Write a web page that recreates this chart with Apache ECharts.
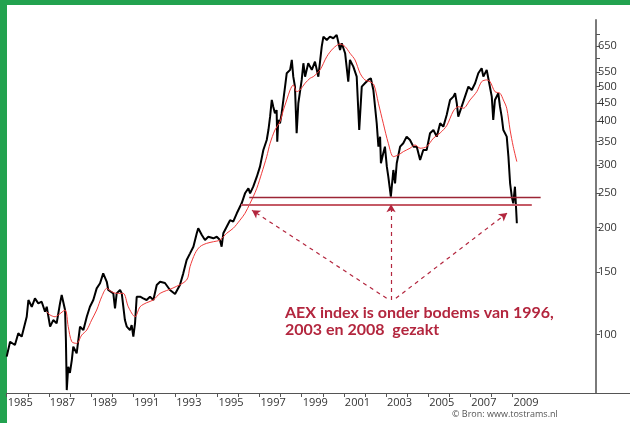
<!DOCTYPE html>
<html><head><meta charset="utf-8">
<script src="https://cdn.jsdelivr.net/npm/echarts@6/dist/echarts.min.js"></script>
<style>html,body{margin:0;padding:0;background:#fff}#c{width:630px;height:423px}</style>
</head><body><div id="c"></div>
<script>
// AEX daily close (approximate)
const aexYears = [1985.00,1985.16,1985.39,1985.55,1985.71,1985.95,1986.03,1986.19,1986.34,1986.50,1986.66,1986.82,1986.90,1987.06,1987.21,1987.37,1987.53,1987.61,1987.77,1987.81,1987.85,1987.92,1988.00,1988.09,1988.16,1988.32,1988.48,1988.64,1988.80,1988.95,1989.11,1989.27,1989.43,1989.58,1989.75,1989.82,1989.90,1990.06,1990.14,1990.22,1990.38,1990.46,1990.61,1990.70,1990.85,1990.93,1991.01,1991.09,1991.17,1991.33,1991.48,1991.64,1991.80,1991.96,1992.12,1992.28,1992.51,1992.75,1992.99,1993.22,1993.38,1993.54,1993.70,1993.86,1994.02,1994.09,1994.26,1994.41,1994.57,1994.81,1994.97,1995.12,1995.20,1995.28,1995.44,1995.60,1995.75,1995.92,1995.99,1996.15,1996.31,1996.47,1996.55,1996.70,1996.87,1997.02,1997.18,1997.34,1997.42,1997.50,1997.58,1997.65,1997.73,1997.81,1997.84,1997.89,1997.97,1998.05,1998.13,1998.21,1998.29,1998.45,1998.53,1998.60,1998.68,1998.76,1998.84,1999.00,1999.08,1999.16,1999.31,1999.48,1999.63,1999.79,1999.95,2000.03,2000.19,2000.34,2000.50,2000.66,2000.82,2000.90,2001.06,2001.21,2001.29,2001.45,2001.61,2001.73,2001.85,2002.00,2002.16,2002.28,2002.40,2002.56,2002.64,2002.72,2002.76,2002.87,2002.95,2003.04,2003.11,2003.23,2003.35,2003.43,2003.51,2003.67,2003.82,2003.98,2004.14,2004.30,2004.46,2004.62,2004.77,2004.93,2005.09,2005.25,2005.41,2005.57,2005.72,2005.88,2006.04,2006.20,2006.28,2006.36,2006.43,2006.59,2006.75,2006.91,2007.07,2007.23,2007.38,2007.54,2007.62,2007.78,2007.90,2008.02,2008.09,2008.17,2008.33,2008.41,2008.49,2008.57,2008.73,2008.81,2008.89,2008.97,2009.04,2009.12,2009.17,2009.21];
const aexValues = [86.6,95.4,93.4,100.8,98.6,112.2,125.1,119.7,126.4,122.4,123.7,115.9,119.7,105.2,109.8,107.5,122.4,129.2,117.2,96.5,69.7,81.1,77.9,84.7,92.4,88.5,105.2,102.9,112.2,119.7,125.1,134.9,139.4,148.7,140.8,133.5,134.9,130.6,118.5,130.6,133.5,130.6,109.8,105.2,102.9,106.3,98.6,107.5,127.8,127.8,126.4,125.1,127.8,125.1,137.9,140.8,139.7,133.5,130.0,137.9,148.7,162.2,169.3,176.8,192.9,199.2,190.7,184.6,188.6,186.7,188.6,184.6,176.8,192.9,201.3,210,207.9,219.6,217.2,234.3,250,258.3,250,261,278.5,297.2,331.2,353.4,377,411.2,458.3,438.8,420.4,429,349.5,402.5,394,420.4,458.3,499.7,545,557,594.3,533,499.7,369.2,448.6,521.9,581.6,533,581.6,557,587.7,533,647.8,691.3,676.5,691.3,684,699,634,662,620.6,516,594.3,569,533,377,499.7,510.8,521.9,527.7,489,394,338.4,361.1,303.8,324.3,338.4,297.2,278.5,244.6,290.9,266.8,303.8,338.4,346,361.1,353.4,338.4,338.4,310.4,331.2,331.2,369.2,377,361.1,394,385.3,415.8,458.3,468.2,478.6,448.6,411.2,438.8,468.2,499.7,489,510.8,545,563,533,557,510.8,468.2,402.5,458.3,478.6,438.8,411.2,377,361.1,317.2,266.8,244.6,234.3,261,229.2,205.8];
// moving average (red)
const maYears = [1986.90,1987.06,1987.29,1987.45,1987.77,1987.92,1988.09,1988.32,1988.56,1988.80,1989.03,1989.27,1989.51,1989.75,1989.98,1990.22,1990.53,1990.77,1991.09,1991.33,1991.64,1991.96,1992.28,1992.89,1993.54,1993.70,1993.94,1994.17,1994.49,1994.81,1995.12,1995.44,1995.75,1996.07,1996.31,1996.55,1996.70,1996.87,1997.10,1997.34,1997.50,1997.73,1997.97,1998.13,1998.29,1998.45,1998.60,1998.76,1998.92,1999.16,1999.40,1999.55,1999.87,2000.19,2000.50,2000.82,2001.06,2001.29,2001.53,2001.77,2002.00,2002.24,2002.43,2002.64,2002.87,2003.11,2003.35,2003.59,2003.82,2004.14,2004.38,2004.62,2004.93,2005.25,2005.57,2005.88,2006.20,2006.43,2006.67,2006.99,2007.31,2007.54,2007.78,2007.94,2008.17,2008.41,2008.57,2008.73,2008.89,2009.04,2009.21];
const maValues = [115.9,113.5,112.2,113.5,117.2,105.2,95.4,94.4,99.6,102.9,109.8,117.2,127.8,134.9,132.0,130.6,130.6,119.7,112.2,119.7,122.9,125.1,130.6,135.2,142.4,155.3,169.3,176.8,180.7,182.6,184.6,192.9,199.2,210,219.6,234.3,244.6,258.3,284.7,317.2,346,377,398.1,429,458.3,489,505.2,483.7,489,510.8,527.7,533,557,607,641,659,647.8,620.6,594.3,545,521.9,516,505.2,448.6,394,346,317.2,320.7,327.6,335,342.2,335,338.4,357.4,369.9,387.6,426.7,438.8,434.2,458.3,483.7,516,521.9,516,483.7,478.6,458.3,434.2,377,338.4,307];
// axis ticks
const yTickValues = [100,150,200,250,300,350,400,450,500,550,600,650,700];
const yLabelValues = [100,150,200,250,300,350,400,450,500,550,650];
const xTickYears = [1985,1986,1987,1988,1989,1990,1991,1992,1993,1994,1995,1996,1997,1998,1999,2000,2001,2002,2003,2004,2005,2006,2007,2008,2009];
const xLabelYears = [1985,1987,1989,1991,1993,1995,1997,1999,2001,2003,2005,2007,2009];
// support levels (bodems) and annotation
const levelHigh = {from: 1996.51, to: 2010.34, value: 243.6};
const levelLow = {from: 1996.12, to: 2009.92, value: 231.8};
const arrowFrom = [[2003.03, 126.5], [2003.24, 125.1], [2003.47, 126.5]];
const arrowTo = [[1996.64, 224], [2003.24, 233], [2008.75, 220]];
const noteLines = ['AEX index is onder bodems van 1996,', '2003 en 2008  gezakt'];
const source = '© Bron: www.tostrams.nl';

const zip = (a, b) => a.map((x, i) => [x, b[i]]);
const chart = echarts.init(document.getElementById('c'), null, {renderer: 'canvas'});
const red = '#b3263e';
chart.setOption({
  animation: false,
  backgroundColor: '#fff',
  grid: {left: 6.7, right: 0, top: 20, bottom: 30, containLabel: false, outerBoundsMode: 'none'},
  xAxis: {
    type: 'value', min: 1985, max: 2014.58,
    axisLine: {show: true, lineStyle: {color: '#555', width: 1}},
    axisTick: {show: true, length: 4, customValues: xTickYears, lineStyle: {color: '#555'}},
    axisLabel: {customValues: xLabelYears, align: 'left', margin: 4, color: '#333', fontSize: 11, fontFamily: 'Open Sans', padding: [0,0,0,1], formatter: v => String(v)},
    splitLine: {show: false}
  },
  yAxis: {
    type: 'log', position: 'right', offset: -34, min: 68.4, max: 770, logBase: 10,
    axisLine: {show: true, lineStyle: {color: '#7a7a7a', width: 2}},
    axisTick: {show: true, length: 4, inside: false, customValues: yTickValues, lineStyle: {color: '#555'}},
    axisLabel: {customValues: yLabelValues, margin: 2, color: '#333', fontSize: 11, fontFamily: 'Open Sans', formatter: v => String(Math.round(v))},
    splitLine: {show: false}, minorTick: {show: false}
  },
  series: [
    {type: 'line', data: zip(aexYears, aexValues), showSymbol: false, lineStyle: {color: '#000', width: 2}, z: 3,
     markLine: {silent: true, symbol: ['none', 'none'], label: {show: false}, animation: false,
       data: [
         [{coord: [levelHigh.from, levelHigh.value], lineStyle: {color: '#9c2535', width: 1.3, type: 'solid'}}, {coord: [levelHigh.to, levelHigh.value]}],
         [{coord: [levelLow.from, levelLow.value], lineStyle: {color: '#c55a66', width: 2, type: 'solid'}}, {coord: [levelLow.to, levelLow.value]}]
       ]}},
    {type: 'line', data: zip(maYears, maValues), showSymbol: false, smooth: 0.3, lineStyle: {color: '#f03a3a', width: 1}, z: 4,
     markLine: {silent: true, symbol: ['none', 'arrow'], symbolSize: [7, 8], label: {show: false}, animation: false,
       lineStyle: {color: red, width: 1.2, type: [4, 4]},
       data: arrowFrom.map((f, i) => [{coord: f}, {coord: arrowTo[i]}])}}
  ],
  graphic: [
    {type: 'rect', left: 0, top: 0, shape: {width: 630, height: 5}, style: {fill: '#22a24f'}},
    {type: 'rect', left: 0, top: 0, shape: {width: 7, height: 423}, style: {fill: '#22a24f'}},
    {type: 'text', left: 285, top: 304, style: {text: noteLines.join('\n'), fill: red, font: 'bold 16px Lato', lineHeight: 17}},
    {type: 'text', left: 452, top: 410, style: {text: source, fill: '#555', font: '9px "Open Sans"'}}
  ]
});
</script></body></html>
